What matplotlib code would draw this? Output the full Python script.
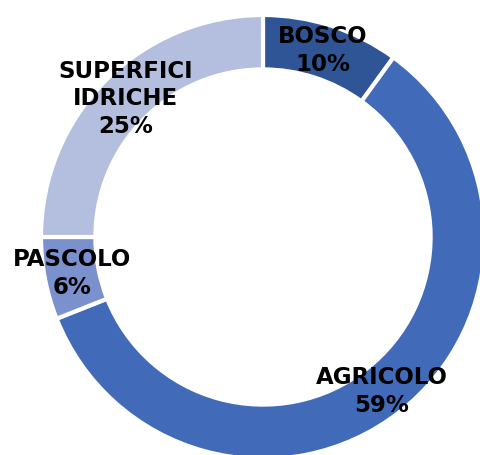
import matplotlib.pyplot as plt

labels = ['BOSCO', 'AGRICOLO', 'PASCOLO', 'SUPERFICI\nIDRICHE']
values = [10, 59, 6, 25]
colors = ['#2F5597', '#416BB9', '#7A91CD', '#B4BFE0']
label_pos = [(0.27, 0.84), (0.536, -0.695), (-0.86, -0.165), (-0.62, 0.623)]

fig = plt.figure(figsize=(4.8, 4.55), dpi=100)
# pie centre at about (263, 237) px, outer radius about 222 px
ax = fig.add_axes([(263 - 222) / 480, (218 - 222) / 455, 444 / 480, 444 / 455])

ax.pie(values, colors=colors, startangle=90, counterclock=False, radius=1,
       wedgeprops=dict(width=0.245, edgecolor='white', linewidth=3))

for lab, v, (x, y) in zip(labels, values, label_pos):
    ax.text(x, y, f'{lab}\n{v}%', ha='center', va='center', fontsize=16.5,
            fontweight='bold', color='black', linespacing=1.25)

ax.set_xlim(-1, 1)
ax.set_ylim(-1, 1)
ax.set_aspect('auto')
ax.axis('off')
fig.savefig('out.png', dpi=100)
